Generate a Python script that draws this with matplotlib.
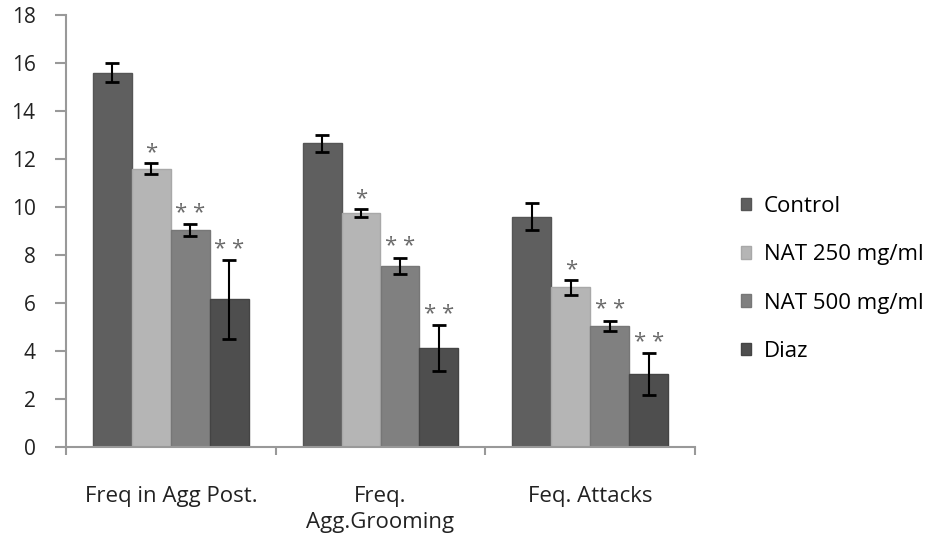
import matplotlib
matplotlib.use("Agg")
import matplotlib.pyplot as plt
import numpy as np

categories = ["Freq in Agg Post.", "Freq.\nAgg.Grooming", "Feq. Attacks"]
series = ["Control", "NAT 250 mg/ml", "NAT 500 mg/ml", "Diaz"]
control = [15.6, 12.65, 9.6]
nat250 = [11.6, 9.75, 6.65]
nat500 = [9.05, 7.55, 5.05]
diaz = [6.15, 4.12, 3.05]
control_err = [0.38, 0.35, 0.55]
nat250_err = [0.22, 0.15, 0.3]
nat500_err = [0.24, 0.34, 0.22]
diaz_err = [1.65, 0.95, 0.87]
marks = ["", "*", "* *", "* *"]

colors = ["#5f5f5f", "#b5b5b5", "#808080", "#4e4e4e"]
edges = ["#555555", "#a8a8a8", "#777777", "#444444"]

plt.rcParams['font.family'] = ['Open Sans', 'DejaVu Sans']

fig = plt.figure(figsize=(9.35, 5.37), dpi=100)
ax = fig.add_axes([66/935, 90/537, (695-66)/935, (447-15)/537])

vals = [control, nat250, nat500, diaz]
errs = [control_err, nat250_err, nat500_err, diaz_err]
x = np.arange(len(categories))
w = 0.186
for i, (v, e) in enumerate(zip(vals, errs)):
    pos = x + (i - 1.5) * w
    ax.bar(pos, v, w, color=colors[i], edgecolor=edges[i], linewidth=1.0, label=series[i], zorder=2)
    ax.errorbar(pos, v, yerr=e, fmt='none', ecolor='black', elinewidth=1.5,
                capsize=5, capthick=2, zorder=3)
    if marks[i]:
        for p, vv, ee in zip(pos, v, e):
            ax.text(p, vv + ee + 0.22, marks[i], ha='center', va='baseline',
                    fontsize=16, color='#6a6a6a', zorder=4)

ax.set_xlim(-0.5, 2.5)
ax.set_ylim(0, 18)
ax.set_yticks(np.arange(0, 19, 2))
ax.set_xticks(x)
ax.set_xticklabels(categories, fontsize=16, color='#222222', linespacing=1.35)
ax.set_xticks([-0.5, 0.5, 1.5, 2.5], minor=True)
ax.tick_params(axis='x', which='major', length=0, pad=28)
ax.tick_params(axis='x', which='minor', length=6, direction='out', color='#999999', width=1.5)
ax.tick_params(axis='y', length=8, direction='out', color='#999999', width=1.5,
               labelsize=15, labelcolor='#222222', pad=14)
for s in ['top', 'right']:
    ax.spines[s].set_visible(False)
for s in ['left', 'bottom']:
    ax.spines[s].set_color('#999999')
    ax.spines[s].set_linewidth(1.5)

ax.legend(loc='center left', bbox_to_anchor=(1.041, 0.389), frameon=False,
          fontsize=16, handlelength=0.47, handleheight=0.47, labelspacing=1.22,
          handletextpad=0.56)

fig.savefig("out.png", dpi=100)
